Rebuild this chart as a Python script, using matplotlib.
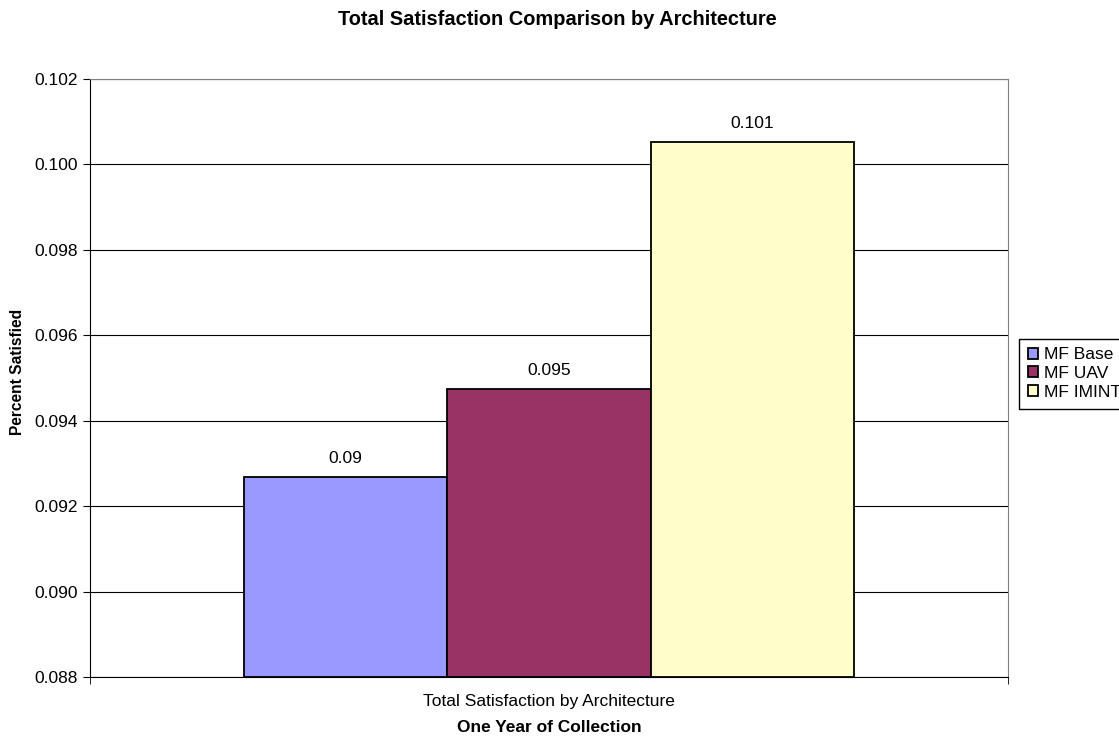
import matplotlib.pyplot as plt
import numpy as np

plt.rcParams['font.family'] = ['Liberation Sans', 'DejaVu Sans']

# series values for the single category
series = ['MF Base', 'MF UAV', 'MF IMINT']
values = [0.09268, 0.09474, 0.10052]
value_labels = ['0.09', '0.095', '0.101']
colors = ['#9999FF', '#993366', '#FFFFCC']
category = 'Total Satisfaction by Architecture'
y_ticks = [0.088, 0.090, 0.092, 0.094, 0.096, 0.098, 0.100, 0.102]

fs = 12.5

fig = plt.figure(figsize=(11.19, 7.43), dpi=100)
ax = fig.add_axes([0.0804, 0.0888, 0.8204, 0.8049])

w = 0.2215
offsets = (np.arange(len(series)) - 1) * w
for off, v, lab, c, name in zip(offsets, values, value_labels, colors, series):
    ax.bar(off, v - y_ticks[0], bottom=y_ticks[0], width=w, color=c,
           edgecolor='black', linewidth=1.3, label=name, zorder=3)
    ax.text(off, v + 0.00027, lab, ha='center', va='bottom', fontsize=fs)

ax.set_xlim(-0.5, 0.5)
ax.set_ylim(y_ticks[0], y_ticks[-1])
ax.set_yticks(y_ticks)
ax.set_yticklabels([f'{t:.3f}' for t in y_ticks], fontsize=fs)
ax.yaxis.grid(True, color='black', linewidth=0.8, zorder=0)
ax.set_xticks([0])
ax.set_xticklabels([category], fontsize=fs)
ax.set_xticks([-0.5, 0.5], minor=True)
ax.tick_params(axis='x', which='major', length=0, pad=12.5)
ax.tick_params(axis='x', which='minor', length=5, color='black')
ax.tick_params(axis='y', length=5, width=0.8, pad=4)

for side in ['top', 'right']:
    ax.spines[side].set_color('#808080')
for side in ['left', 'bottom']:
    ax.spines[side].set_color('black')

ax.set_ylabel('Percent Satisfied', fontsize=11.2, fontweight='bold')
ax.yaxis.set_label_coords(-0.0708, 0.51)
ax.set_xlabel('One Year of Collection', fontsize=fs, fontweight='bold', labelpad=8)
fig.text(0.498, 0.974, 'Total Satisfaction Comparison by Architecture',
         fontsize=14.4, fontweight='bold', ha='center', va='center')

ax.legend(loc='upper left', bbox_to_anchor=(1.012, 0.566), fontsize=fs,
          frameon=True, fancybox=False, edgecolor='black', framealpha=1,
          handlelength=0.6, handleheight=0.6, handletextpad=0.35,
          labelspacing=0.22, borderpad=0.5, borderaxespad=0)

fig.savefig('out.png', dpi=100)
